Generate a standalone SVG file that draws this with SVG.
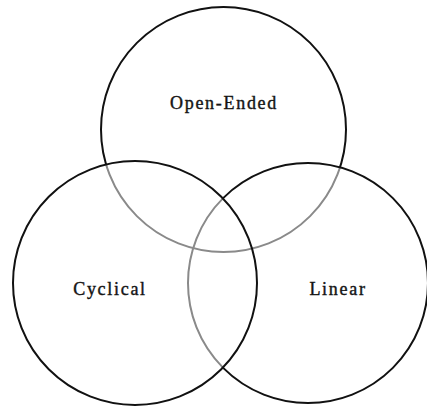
<svg xmlns="http://www.w3.org/2000/svg" width="427" height="407" viewBox="0 0 427 407">
<style>
.c{fill:none;stroke:#111;stroke-width:2}
.g{fill:none;stroke:#8a8a8a;stroke-width:2}
.t{font-family:"Liberation Serif","Times New Roman",serif;font-size:18px;letter-spacing:1.7px;fill:#151515;text-anchor:middle;stroke:#151515;stroke-width:0.4}
</style>
<defs>
<clipPath id="inLR"><circle cx="135" cy="283" r="122"/><circle cx="308" cy="283" r="120"/></clipPath>
<clipPath id="inL"><circle cx="135" cy="283" r="122"/></clipPath>
<mask id="outLR" maskUnits="userSpaceOnUse" x="0" y="0" width="427" height="407">
<rect width="427" height="407" fill="#fff"/>
<circle cx="135" cy="283" r="122" fill="#000"/>
<circle cx="308" cy="283" r="120" fill="#000"/>
</mask>
<mask id="outL" maskUnits="userSpaceOnUse" x="0" y="0" width="427" height="407">
<rect width="427" height="407" fill="#fff"/>
<circle cx="135" cy="283" r="122" fill="#000"/>
</mask>
</defs>
<g id="open-ended">
<circle class="c" cx="223.5" cy="129.5" r="122.5" mask="url(#outLR)"/>
<circle class="g" cx="223.5" cy="129.5" r="122.5" clip-path="url(#inLR)"/>
<text class="t" x="224" y="109">Open-Ended</text>
</g>
<g id="linear">
<circle class="c" cx="308" cy="283" r="120" mask="url(#outL)"/>
<circle class="g" cx="308" cy="283" r="120" clip-path="url(#inL)"/>
<text class="t" x="338" y="295">Linear</text>
</g>
<g id="cyclical">
<circle class="c" cx="135" cy="283" r="122"/>
<text class="t" x="110" y="295">Cyclical</text>
</g>
<g id="connectors"/>
</svg>
